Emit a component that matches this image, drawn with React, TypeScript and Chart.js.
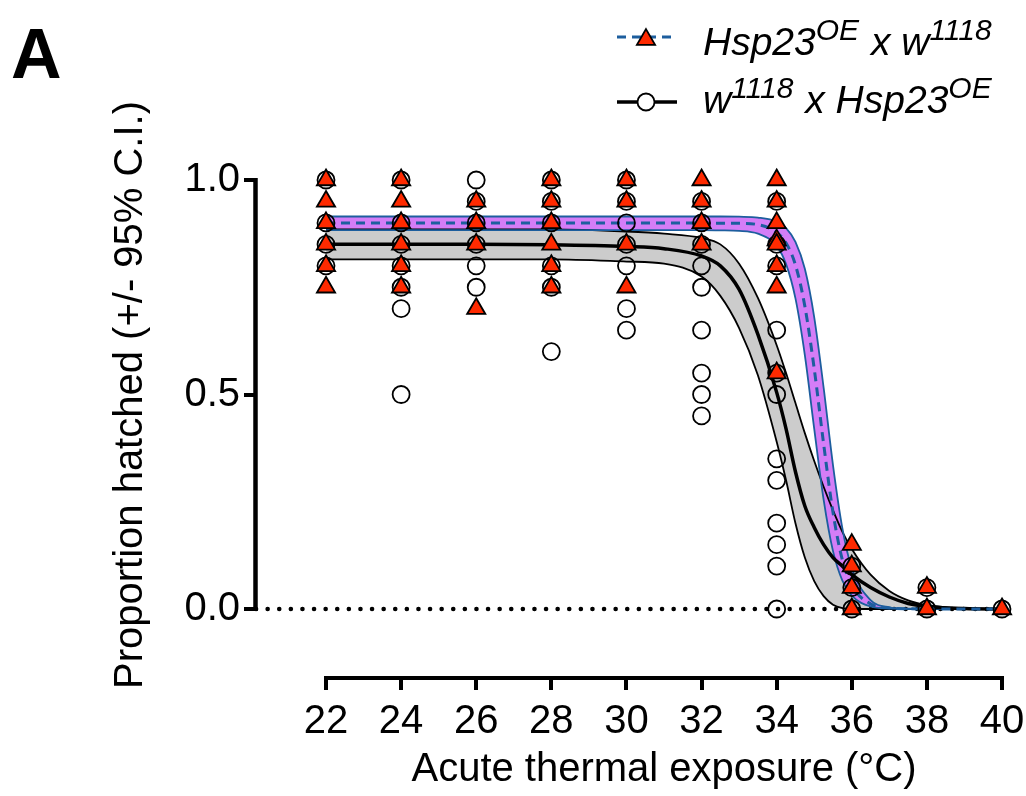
import React, { useEffect, useRef } from 'react';
import { Chart, registerables } from 'chart.js';

Chart.register(...registerables);

// ---- data ----
const TEMPS = [22, 24, 26, 28, 30, 32, 34, 36, 38, 40];

// Hsp23^OE x w1118 (red triangles), proportion hatched per replicate
const HSP_HATCH: number[][] = [
  [1.0, 0.95, 0.9, 0.85, 0.8, 0.75],
  [1.0, 0.95, 0.9, 0.85, 0.8, 0.75],
  [0.95, 0.9, 0.85, 0.7],
  [1.0, 0.95, 0.9, 0.85, 0.8, 0.75],
  [1.0, 0.95, 0.85, 0.75],
  [1.0, 0.95, 0.9, 0.85],
  [1.0, 0.95, 0.9, 0.86, 0.85, 0.8, 0.75, 0.55],
  [0.15, 0.1, 0.05, 0.0],
  [0.05, 0.0],
  [0.0],
];

// w1118 x Hsp23^OE (open circles)
const W_HATCH: number[][] = [
  [1.0, 0.9, 0.85, 0.8],
  [1.0, 0.9, 0.85, 0.8, 0.75, 0.7, 0.5],
  [1.0, 0.95, 0.9, 0.85, 0.8, 0.75],
  [1.0, 0.95, 0.9, 0.8, 0.75, 0.6],
  [1.0, 0.95, 0.9, 0.85, 0.8, 0.7, 0.65],
  [0.95, 0.9, 0.85, 0.8, 0.75, 0.65, 0.55, 0.5, 0.45],
  [0.95, 0.85, 0.8, 0.65, 0.55, 0.5, 0.35, 0.3, 0.2, 0.15, 0.1, 0.0],
  [0.1, 0.05, 0.0],
  [0.05, 0.0],
  [0.0],
];

// fitted curves and 95% C.I. bands, read at these temperatures
const FIT_X = [22, 24, 26, 28, 30, 31, 32, 32.5, 33, 33.5, 34, 34.25, 34.5, 34.75, 35, 35.25, 35.5, 35.75, 36, 36.5, 37, 37.5, 38, 39, 40];
const HSP_FIT = [0.9, 0.9, 0.9, 0.9, 0.9, 0.9, 0.9, 0.899, 0.899, 0.896, 0.878, 0.853, 0.802, 0.706, 0.56, 0.385, 0.225, 0.114, 0.055, 0.012, 0.0025, 0.0006, 0.0001, 0, 0];
const HSP_CI_UPPER = [0.915, 0.915, 0.915, 0.915, 0.915, 0.915, 0.915, 0.915, 0.9145, 0.9125, 0.903, 0.888, 0.856, 0.793, 0.68, 0.516, 0.335, 0.188, 0.095, 0.021, 0.004, 0.001, 0.0002, 0, 0];
const HSP_CI_LOWER = [0.883, 0.883, 0.883, 0.883, 0.883, 0.883, 0.883, 0.8825, 0.8815, 0.875, 0.846, 0.804, 0.724, 0.592, 0.42, 0.255, 0.135, 0.066, 0.031, 0.006, 0.0013, 0.0003, 0, 0, 0];
const W_FIT = [0.85, 0.85, 0.85, 0.849, 0.845, 0.84, 0.823, 0.8, 0.745, 0.64, 0.505, 0.42, 0.32, 0.24, 0.19, 0.15, 0.12, 0.1, 0.08, 0.05, 0.028, 0.013, 0.006, 0.001, 0];
const W_CI_UPPER = [0.885, 0.885, 0.885, 0.885, 0.88, 0.875, 0.865, 0.85, 0.805, 0.725, 0.615, 0.55, 0.48, 0.41, 0.345, 0.285, 0.23, 0.18, 0.14, 0.08, 0.042, 0.02, 0.009, 0.002, 0];
const W_CI_LOWER = [0.815, 0.815, 0.815, 0.815, 0.81, 0.805, 0.775, 0.73, 0.655, 0.545, 0.39, 0.3, 0.2, 0.12, 0.065, 0.03, 0.01, 0.002, 0, 0, 0, 0, 0, 0, 0];

const X_TICKS = [22, 24, 26, 28, 30, 32, 34, 36, 38, 40];
const Y_TICKS = [0, 0.5, 1.0];

const X_MIN = 20.136;
const X_MAX = 40.266;
const Y_MIN = -0.1608;
const Y_MAX = 1.049;

const FONT = '"Liberation Sans", Arial, Helvetica, sans-serif';
const RED = '#FF2A00';
const BLUE = '#1D5E9E';
const PURPLE = '#D47DF7';
const GREY = '#CCCCCC';

const curve = (xs: number[], ys: number[]) => xs.map((x, i) => ({ x, y: ys[i] }));
const scatter = (groups: number[][]) => TEMPS.flatMap((t, i) => groups[i].map((y) => ({ x: t, y })));

function drawRich(ctx: CanvasRenderingContext2D, x: number, y: number, parts: [string, boolean][]) {
  let cx = x;
  for (const [txt, sup] of parts) {
    ctx.font = sup ? `italic 30px ${FONT}` : `italic 39px ${FONT}`;
    ctx.fillText(txt, cx, sup ? y - 15 : y);
    cx += ctx.measureText(txt).width + (sup ? 1 : 0);
  }
}

const decor = {
  id: 'decor',
  afterDraw(chart: any) {
    const { ctx, chartArea } = chart;
    const xs = chart.scales.x;
    const ys = chart.scales.y;
    ctx.save();
    ctx.strokeStyle = '#000';
    ctx.lineWidth = 4.5;
    ctx.lineCap = 'butt';
    // y axis line
    const yTop = ys.getPixelForValue(Y_TICKS[Y_TICKS.length - 1]);
    const yBot = ys.getPixelForValue(Y_TICKS[0]);
    ctx.beginPath();
    ctx.moveTo(chartArea.left - 0.5, yTop - 2);
    ctx.lineTo(chartArea.left - 0.5, yBot + 2);
    ctx.stroke();
    // x axis line
    const xL = xs.getPixelForValue(X_TICKS[0]);
    const xR = xs.getPixelForValue(X_TICKS[X_TICKS.length - 1]);
    ctx.lineWidth = 4;
    ctx.beginPath();
    ctx.moveTo(xL - 2, chartArea.bottom);
    ctx.lineTo(xR + 2, chartArea.bottom);
    ctx.stroke();

    ctx.fillStyle = '#000';
    // panel letter
    ctx.font = `bold 70px ${FONT}`;
    ctx.textAlign = 'left';
    ctx.textBaseline = 'alphabetic';
    ctx.fillText('A', 11, 78);

    // axis titles
    ctx.font = `40px ${FONT}`;
    ctx.textAlign = 'center';
    ctx.fillText('Acute thermal exposure (°C)', 664, 781);
    ctx.save();
    ctx.translate(142, 395);
    ctx.rotate(-Math.PI / 2);
    ctx.fillText('Proportion hatched (+/- 95% C.I.)', 0, 0);
    ctx.restore();

    // legend
    ctx.textAlign = 'left';
    ctx.lineWidth = 3;
    ctx.strokeStyle = BLUE;
    ctx.setLineDash([9, 6]);
    ctx.beginPath();
    ctx.moveTo(617, 37);
    ctx.lineTo(677, 37);
    ctx.stroke();
    ctx.setLineDash([]);
    // triangle marker
    const r = 10.5;
    const cy = 37 + r / 4;
    ctx.beginPath();
    ctx.moveTo(646, cy - r);
    ctx.lineTo(646 + r * Math.sin((2 * Math.PI) / 3), cy - r * Math.cos((2 * Math.PI) / 3));
    ctx.lineTo(646 - r * Math.sin((2 * Math.PI) / 3), cy - r * Math.cos((2 * Math.PI) / 3));
    ctx.closePath();
    ctx.fillStyle = RED;
    ctx.fill();
    ctx.strokeStyle = '#000';
    ctx.lineWidth = 1.8;
    ctx.stroke();

    ctx.strokeStyle = '#000';
    ctx.lineWidth = 3.5;
    ctx.beginPath();
    ctx.moveTo(617, 102);
    ctx.lineTo(677, 102);
    ctx.stroke();
    ctx.beginPath();
    ctx.arc(646, 102, 8.5, 0, Math.PI * 2);
    ctx.fillStyle = '#fff';
    ctx.fill();
    ctx.lineWidth = 1.8;
    ctx.stroke();

    ctx.fillStyle = '#000';
    drawRich(ctx, 703, 55, [['Hsp23', false], ['OE', true], [' x w', false], ['1118', true]]);
    drawRich(ctx, 703, 113, [['w', false], ['1118', true], [' x Hsp23', false], ['OE', true]]);
    ctx.restore();
  },
};

export default function App() {
  const ref = useRef<HTMLCanvasElement | null>(null);
  useEffect(() => {
    if (!ref.current) return;
    Chart.defaults.font.family = FONT;
    const line = (data: any, extra: any) => ({
      type: 'line',
      data,
      pointRadius: 0,
      pointHoverRadius: 0,
      cubicInterpolationMode: 'monotone',
      fill: false,
      clip: false,
      ...extra,
    });
    const chart = new Chart(ref.current, {
      type: 'line',
      data: {
        datasets: [
          {
            type: 'line',
            label: 'Hsp23OE x w1118',
            data: scatter(HSP_HATCH),
            showLine: false,
            pointStyle: 'triangle',
            pointRadius: 10.5,
            pointBackgroundColor: RED,
            pointBorderColor: '#000',
            pointBorderWidth: 1.8,
            clip: false,
            order: 0,
          },
          {
            type: 'line',
            label: 'w1118 x Hsp23OE',
            data: scatter(W_HATCH),
            showLine: false,
            pointStyle: 'circle',
            pointRadius: 8.5,
            pointBackgroundColor: 'rgba(0,0,0,0)',
            pointBorderColor: '#000',
            pointBorderWidth: 1.8,
            clip: false,
            order: 1,
          },
          line(curve(FIT_X, HSP_FIT), { borderColor: BLUE, borderWidth: 3, borderDash: [9, 6], order: 2 }),
          line(curve(FIT_X, W_FIT), { borderColor: '#000', borderWidth: 3.5, order: 3 }),
          line(curve(FIT_X, HSP_CI_UPPER), { borderColor: BLUE, borderWidth: 1.8, fill: 5, backgroundColor: PURPLE, order: 4 }),
          line(curve(FIT_X, HSP_CI_LOWER), { borderColor: BLUE, borderWidth: 1.8, order: 5 }),
          line(curve(FIT_X, W_CI_UPPER), { borderColor: '#000', borderWidth: 1.8, fill: 7, backgroundColor: GREY, order: 6 }),
          line(curve(FIT_X, W_CI_LOWER), { borderColor: '#000', borderWidth: 1.8, order: 7 }),
          line(
            [
              { x: X_MIN, y: 0 },
              { x: X_TICKS[X_TICKS.length - 1], y: 0 },
            ],
            { borderColor: '#000', borderWidth: 4.5, borderDash: [0.1, 11.5], borderCapStyle: 'round', order: 8, cubicInterpolationMode: 'default' }
          ),
        ] as any,
      },
      options: {
        animation: false,
        responsive: false,
        maintainAspectRatio: false,
        devicePixelRatio: 1,
        events: [],
        layout: { padding: { left: 0, top: 159, right: 14, bottom: 0 } },
        plugins: {
          legend: { display: false },
          tooltip: { enabled: false },
          filler: { drawTime: 'beforeDatasetsDraw' },
        } as any,
        scales: {
          x: {
            type: 'linear',
            min: X_MIN,
            max: X_MAX,
            afterBuildTicks: (s: any) => {
              s.ticks = X_TICKS.map((v) => ({ value: v }));
            },
            afterFit: (s: any) => {
              s.height = 118;
              s.paddingLeft = 0;
              s.paddingRight = 0;
            },
            border: { display: false },
            grid: { drawOnChartArea: false, drawTicks: true, tickLength: 12, tickWidth: 4, tickColor: '#000', color: '#000', lineWidth: 4 },
            ticks: { autoSkip: false, maxRotation: 0, color: '#000', font: { size: 40, family: FONT }, padding: 8, callback: (v: any) => String(v) },
          },
          y: {
            type: 'linear',
            min: Y_MIN,
            max: Y_MAX,
            afterBuildTicks: (s: any) => {
              s.ticks = Y_TICKS.map((v) => ({ value: v }));
            },
            afterFit: (s: any) => {
              s.width = 256;
              s.paddingTop = 0;
              s.paddingBottom = 0;
            },
            border: { display: false },
            grid: { drawOnChartArea: false, drawTicks: true, tickLength: 12, tickWidth: 4, tickColor: '#000', color: '#000', lineWidth: 4 },
            ticks: { color: '#000', font: { size: 40, family: FONT }, padding: 4, callback: (v: any) => Number(v).toFixed(1) },
          },
        } as any,
      },
      plugins: [decor],
    } as any);
    return () => chart.destroy();
  }, []);
  return (
    <div style={{ position: 'fixed', left: 0, top: 0, width: 1026, height: 796, background: '#fff' }}>
      <canvas ref={ref} width={1026} height={796} style={{ display: 'block' }} />
    </div>
  );
}
